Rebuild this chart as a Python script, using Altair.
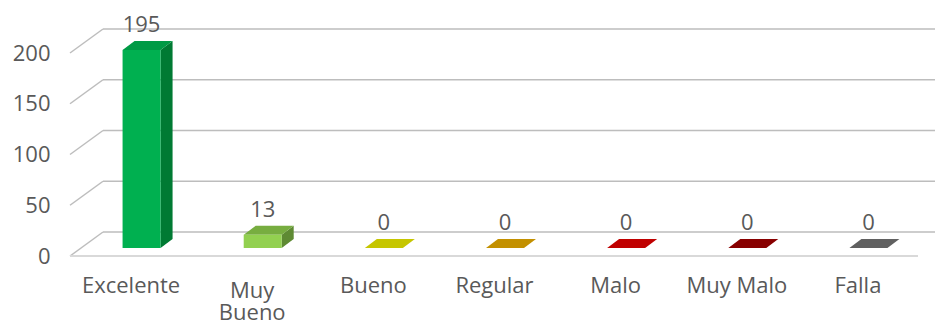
import json
import altair as alt
import pandas as pd

# ---- data ----
categories = ["Excelente", "Muy Bueno", "Bueno", "Regular", "Malo", "Muy Malo", "Falla"]
values = [195, 13, 0, 0, 0, 0, 0]
tick_labels = ["Excelente", "Muy\nBueno", "Bueno", "Regular", "Malo", "Muy Malo", "Falla"]
grid_values = [0, 50, 100, 150, 200]

# ---- styles ----
front_colors = ["#00B050", "#92D050", "#D2D200", "#CF9A00", "#D00000", "#960000", "#6E6E6E"]
top_colors = ["#009A45", "#77AD40", "#C6C600", "#C39000", "#C00000", "#880000", "#606060"]
side_colors = ["#007A33", "#5E8A33", "#A0A000", "#9A7000", "#900000", "#660000", "#4A4A4A"]

W, H = 848, 203
N = len(categories)
XPX = W / N          # pixels per category unit
YPX = H / 200.0      # pixels per value unit
FONT = "Open Sans"
FS = 22
TXT = "#595959"
GRID = "#BDBDBD"

df = pd.DataFrame({
    "cat": categories,
    "val": values,
    "idx": list(range(N)),
    "cfront": front_colors,
    "ctop": top_colors,
    "cside": side_colors,
})
# front (k=0) and back (k=1) edge of each bar's depth
df2 = pd.concat([df.assign(k=0), df.assign(k=1)], ignore_index=True)
gdf = pd.DataFrame({"v": grid_values})

xs = alt.Scale(domain=[0, N], nice=False, zero=False)
ys = alt.Scale(domain=[0, 200], nice=False, zero=False)

label_arrays = [t.split("\n") for t in tick_labels]
arr = json.dumps(label_arrays)
label_expr = f"{arr}[floor(datum.value)]"
multi_test = f"length({arr}[floor(datum.value)]) > 1"

xaxis = alt.Axis(
    values=[i + 0.5 for i in range(N)], labelExpr=label_expr,
    domain=False, ticks=False, tickSize=0, grid=False, title=None,
    labelPadding={"condition": {"test": multi_test, "value": 48}, "value": 43},
    labelLineHeight=22, labelOverlap=False, labelFlush=False,
    labelFont=FONT, labelFontSize=FS, labelColor=TXT)
yaxis = alt.Axis(
    values=grid_values, domain=False, ticks=False, tickSize=0, grid=False,
    labelOffset=24, labelPadding=20, title=None, labelOverlap=False,
    labelFont=FONT, labelFontSize=FS, labelColor=TXT)

def X(f):
    return alt.X(f, scale=xs, axis=xaxis)

def Y(f):
    return alt.Y(f, scale=ys, axis=yaxis)

base = alt.Chart(df).transform_calculate(pos="datum.idx + 0.5")
two = alt.Chart(df2).transform_calculate(pos="datum.idx + 0.5")
gbase = alt.Chart(gdf).transform_calculate(yf=f"datum.v - 24/{YPX}")

# back wall gridlines
back = gbase.mark_rule(color=GRID, strokeWidth=1.5).encode(
    x=alt.value(33), x2=alt.value(865), y=Y("v:Q"),
)
# side wall diagonals
diag = gbase.mark_rule(color=GRID, strokeWidth=1.5).encode(
    x=alt.value(0), x2=alt.value(33), y=Y("yf:Q"), y2="v:Q",
)
# front floor line
floor = gbase.transform_filter("datum.v == 0").mark_rule(color="#D9D9D9", strokeWidth=2).encode(
    x=alt.value(0), x2=alt.value(W), y=Y("yf:Q"),
)

side = two.transform_calculate(
    sx=f"datum.pos + (30 + 12*datum.k)/{XPX}",
    sy=f"datum.val - (16 - 9*datum.k)/{YPX}",
    sy2=f"-(16 - 9*datum.k)/{YPX}",
).mark_area().encode(
    x=X("sx:Q"), y=Y("sy:Q"), y2="sy2:Q",
    detail="cat:N",
    color=alt.Color("cside:N", scale=None),
)

top = two.transform_calculate(
    tx=f"datum.pos + (-8 + 12*datum.k)/{XPX}",
    tx2=f"datum.pos + (30 + 12*datum.k)/{XPX}",
    ty=f"datum.val - (16 - 9*datum.k)/{YPX}",
).mark_area(orient="horizontal").encode(
    y=Y("ty:Q"), x=X("tx:Q"), x2="tx2:Q",
    detail="cat:N",
    color=alt.Color("ctop:N", scale=None),
)

front = base.transform_calculate(
    fx=f"datum.pos - 8/{XPX}",
    fx2=f"datum.pos + 30/{XPX}",
    fy=f"datum.val - 16/{YPX}",
    fy2=f"-16/{YPX}",
).mark_rect().encode(
    x=X("fx:Q"), x2="fx2:Q",
    y=Y("fy:Q"), y2="fy2:Q",
    color=alt.Color("cfront:N", scale=None),
)

labels = base.transform_calculate(
    lx=f"datum.pos + 11/{XPX}",
).mark_text(font=FONT, fontSize=FS, color=TXT, baseline="alphabetic", dy=-2).encode(
    x=X("lx:Q"), y=Y("val:Q"), text="val:Q",
)

chart = alt.layer(back, diag, floor, side, top, front, labels).properties(
    width=W, height=H,
    autosize=alt.AutoSizeParams(type="none"),
    padding={"left": 70, "top": 29, "right": 17, "bottom": 88},
    background="white",
).configure_view(stroke=None)

chart.save("out.html", embed_options={"renderer": "svg", "actions": False})
